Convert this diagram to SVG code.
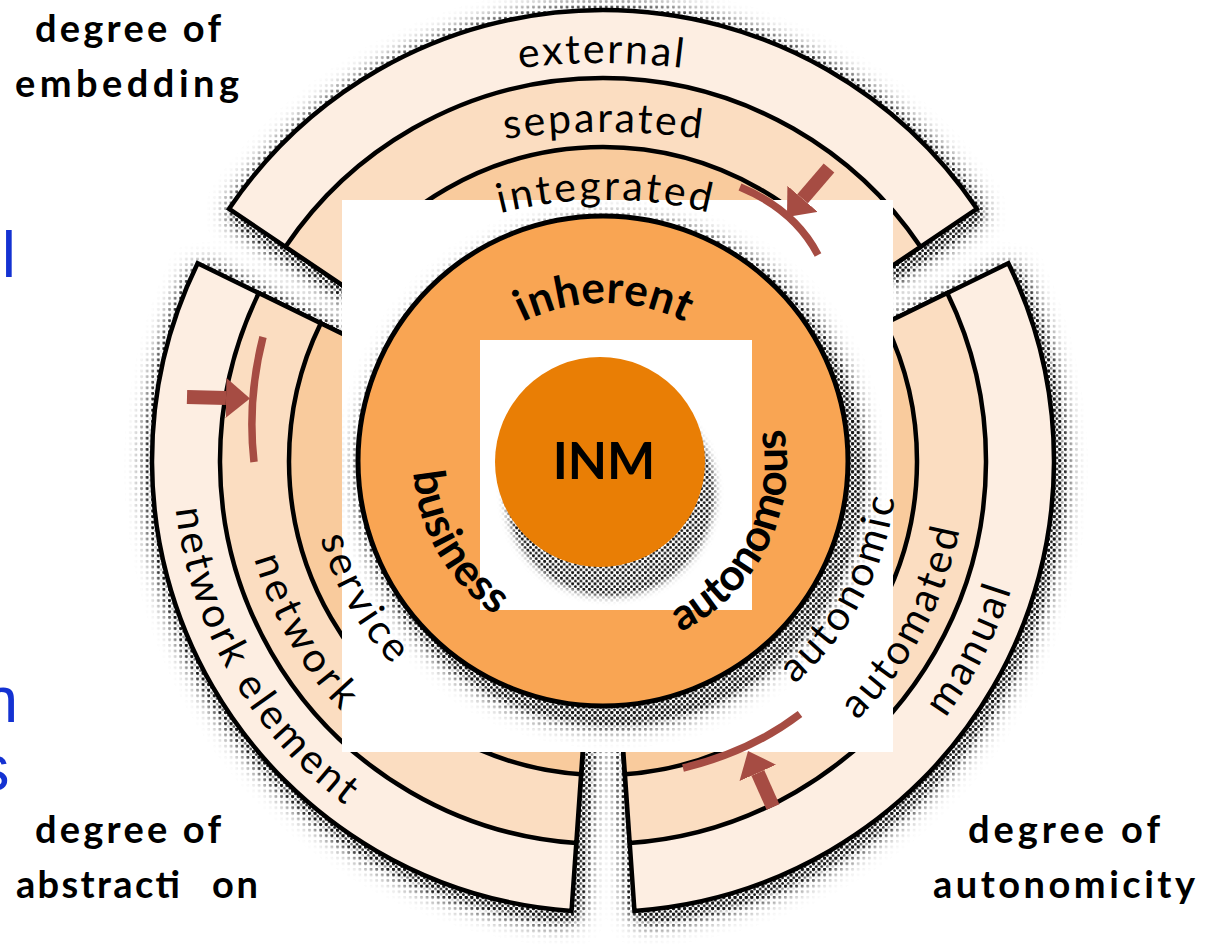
<svg xmlns="http://www.w3.org/2000/svg" width="1215" height="946" viewBox="0 0 1215 946">
<style>
.b3{fill:#FDEEE2}
.b2{fill:#FBDDC1}
.b1{fill:#F9CB9D}
.sec path{stroke:#000;stroke-width:4.5;stroke-linejoin:miter}
.ring{font-family:Lato,"Liberation Sans",sans-serif;font-size:41px;fill:#000;letter-spacing:2.5px}
.bold{font-family:Lato,"Liberation Sans",sans-serif;font-weight:700;font-size:44px;fill:#000;letter-spacing:0.5px}
.corner{font-family:Lato,"Liberation Sans",sans-serif;font-weight:700;font-size:38px;fill:#000}
.blue{font-family:"Liberation Sans",Arial,sans-serif;font-size:64px;fill:#1432D2}
.bar{fill:none;stroke:#A64C43;stroke-width:7.5}
.shaft{fill:none;stroke:#A64C43;stroke-width:14}
</style>
<defs>
<pattern id="dotA" width="5.6" height="5.6" patternUnits="userSpaceOnUse"><circle cx="1.4" cy="1.4" r="1.55" fill="#151515"/></pattern>
<pattern id="dotB" width="5.6" height="5.6" patternUnits="userSpaceOnUse"><circle cx="1.4" cy="1.4" r="1.55" fill="#151515"/><circle cx="4.2" cy="4.2" r="1.4" fill="#151515"/></pattern>
<filter id="fWide" x="-20%" y="-20%" width="140%" height="140%"><feGaussianBlur stdDeviation="13"/><feComponentTransfer><feFuncA type="linear" slope="3.4"/></feComponentTransfer></filter>
<filter id="fTight" x="-20%" y="-20%" width="140%" height="140%"><feGaussianBlur stdDeviation="6"/><feComponentTransfer><feFuncA type="linear" slope="2.4"/></feComponentTransfer></filter>
<path id="secAll" d="M603,461 L229.10,208.81 A451,451 0 0 1 976.90,208.81 Z M603,461 L1008.35,263.30 A451,451 0 0 1 634.46,910.90 Z M603,461 L571.54,910.90 A451,451 0 0 1 197.65,263.30 Z"/>
<mask id="mSecWide" maskUnits="userSpaceOnUse" x="0" y="0" width="1215" height="946"><g filter="url(#fWide)"><use href="#secAll" fill="#fff" transform="translate(3,6)"/></g></mask>
<mask id="mSecTight" maskUnits="userSpaceOnUse" x="0" y="0" width="1215" height="946"><g filter="url(#fTight)"><use href="#secAll" fill="#fff" transform="translate(4,7)"/></g></mask>
<mask id="mInhWide" maskUnits="userSpaceOnUse" x="0" y="0" width="1215" height="946"><g filter="url(#fWide)"><circle cx="612" cy="473" r="245" fill="#fff"/></g></mask>
<mask id="mInhTight" maskUnits="userSpaceOnUse" x="0" y="0" width="1215" height="946"><g filter="url(#fTight)"><circle cx="613" cy="475" r="245" fill="#fff"/></g></mask>
<mask id="mInm" maskUnits="userSpaceOnUse" x="0" y="0" width="1215" height="946"><g filter="url(#fTight)"><circle cx="610" cy="492" r="100" fill="#fff"/></g></mask>
<marker id="head" markerUnits="userSpaceOnUse" markerWidth="26" markerHeight="40" refX="0" refY="20" orient="auto"><path d="M0,0 L24,20 L0,40 Z" fill="#A64C43"/></marker>
<path id="pExternal" d="M432,85.6 A650,650 0 0 1 772,85.6"/>
<path id="pSeparated" d="M434,153 A700,700 0 0 1 774,153"/>
<path id="pIntegrated" d="M436,235 A430,430 0 0 1 776,235"/>
<path id="pInherent" d="M464.6,368 A182,182 0 0 1 743.4,368"/>
<path id="pBusiness" d="M424.3,396 A187,187 0 0 0 567.5,644.2"/>
<path id="pAutonomous" d="M642.1,645.2 A187,187 0 0 0 772.1,389.9"/>
<path id="pService" d="M327.7,360.8 A293,293 0 0 0 552.1,749.5"/>
<path id="pNetwork" d="M262.8,337.2 A362,362 0 0 0 540.1,817.5"/>
<path id="pNetElem" d="M198.9,313.9 A430,430 0 0 0 528.3,884.5"/>
<path id="pAutonomic" d="M664.1,748.6 A294,294 0 0 0 875.6,350.9"/>
<path id="pAutomated" d="M678.5,816.1 A363,363 0 0 0 939.6,325.0"/>
<path id="pManual" d="M699.3,878.0 A428,428 0 0 0 997.0,293.8"/>
</defs>

<rect width="1215" height="946" fill="#fff"/>

<g id="blue-fragments">
<text class="blue" x="1.7" y="277">l</text>
<text class="blue" x="-17.4" y="722">n</text>
<text class="blue" x="-22.4" y="790">s</text>
</g>

<g id="sector-shadow">
<rect width="1215" height="946" fill="url(#dotA)" mask="url(#mSecWide)"/>
<rect width="1215" height="946" fill="url(#dotB)" mask="url(#mSecTight)"/>
</g>

<g id="sector-embedding" class="sec">
<path class="b3" d="M603,461 L229.10,208.81 A451,451 0 0 1 976.90,208.81 Z"/>
<path class="b2" d="M603,461 L285.48,246.83 A383,383 0 0 1 920.52,246.83 Z"/>
<path class="b1" d="M603,461 L342.68,285.41 A314,314 0 0 1 863.32,285.41 Z"/>
</g>
<g id="sector-autonomicity" class="sec">
<path class="b3" d="M603,461 L1008.35,263.30 A451,451 0 0 1 634.46,910.90 Z"/>
<path class="b2" d="M603,461 L947.24,293.10 A383,383 0 0 1 629.72,843.07 Z"/>
<path class="b1" d="M603,461 L885.22,323.35 A314,314 0 0 1 624.90,774.23 Z"/>
</g>
<g id="sector-abstraction" class="sec">
<path class="b3" d="M603,461 L571.54,910.90 A451,451 0 0 1 197.65,263.30 Z"/>
<path class="b2" d="M603,461 L576.28,843.07 A383,383 0 0 1 258.76,293.10 Z"/>
<path class="b1" d="M603,461 L581.10,774.23 A314,314 0 0 1 320.78,323.35 Z"/>
</g>

<g id="white-square">
<rect x="342" y="200" width="551" height="552" fill="#fff"/>
</g>

<g id="inherent">
<rect x="342" y="200" width="551" height="552" fill="url(#dotA)" mask="url(#mInhWide)"/>
<rect x="342" y="200" width="551" height="552" fill="url(#dotB)" mask="url(#mInhTight)"/>
<circle cx="603" cy="461" r="245" fill="#F9A553" stroke="#000" stroke-width="5"/>
</g>

<g id="inner-square">
<rect x="480" y="340" width="272" height="270" fill="#fff"/>
</g>

<g id="inm">
<rect x="480" y="340" width="272" height="270" fill="url(#dotB)" mask="url(#mInm)"/>
<circle cx="600" cy="462" r="105" fill="#E97E05"/>
<text x="604" y="479" text-anchor="middle" font-family="Lato,'Liberation Sans',sans-serif" font-weight="700" font-size="51" fill="#000">INM</text>
</g>

<g id="labels">
<text class="ring"><textPath href="#pExternal" startOffset="50%" text-anchor="middle">external</textPath></text>
<text class="ring"><textPath href="#pSeparated" startOffset="50%" text-anchor="middle">separated</textPath></text>
<text class="ring" style="letter-spacing:3px"><textPath href="#pIntegrated" startOffset="50%" text-anchor="middle">integrated</textPath></text>
<text class="bold"><textPath href="#pInherent" startOffset="50%" text-anchor="middle">inherent</textPath></text>
<text class="bold"><textPath href="#pBusiness" startOffset="50%" text-anchor="middle">business</textPath></text>
<text class="bold" style="letter-spacing:0px"><textPath href="#pAutonomous" startOffset="50%" text-anchor="middle">autonomous</textPath></text>
<text class="ring" style="letter-spacing:3.5px"><textPath href="#pService" startOffset="50%" text-anchor="middle">service</textPath></text>
<text class="ring" style="letter-spacing:4.5px"><textPath href="#pNetwork" startOffset="50%" text-anchor="middle">network</textPath></text>
<text class="ring" style="letter-spacing:3.2px"><textPath href="#pNetElem" startOffset="50%" text-anchor="middle">network element</textPath></text>
<text class="ring" style="letter-spacing:3.2px"><textPath href="#pAutonomic" startOffset="50%" text-anchor="middle">autonomic</textPath></text>
<text class="ring" style="letter-spacing:3.2px"><textPath href="#pAutomated" startOffset="50%" text-anchor="middle">automated</textPath></text>
<text class="ring" style="letter-spacing:3px"><textPath href="#pManual" startOffset="50%" text-anchor="middle">manual</textPath></text>
</g>

<g id="axis-labels">
<text class="corner" x="35" y="42" textLength="186" lengthAdjust="spacing">degree of</text>
<text class="corner" x="15" y="97" textLength="224" lengthAdjust="spacing">embedding</text>
<text class="corner" x="35" y="843" textLength="186" lengthAdjust="spacing">degree of</text>
<text class="corner" y="898"><tspan x="16" textLength="164" lengthAdjust="spacing">abstracti</tspan><tspan x="212" textLength="46" lengthAdjust="spacing">on</tspan></text>
<text class="corner" x="968" y="843" textLength="192" lengthAdjust="spacing">degree of</text>
<text class="corner" x="933" y="898" textLength="262" lengthAdjust="spacing">autonomicity</text>
</g>

<g id="connectors">
<path class="bar" d="M740,187 Q795,210 818,255"/>
<line class="shaft" x1="829" y1="168" x2="802.6" y2="198.8" marker-end="url(#head)"/>
<path class="bar" d="M263,337 Q247,400 254,462"/>
<line class="shaft" x1="187" y1="397" x2="226" y2="398" marker-end="url(#head)"/>
<path class="bar" d="M683,768 Q750,752 800,714"/>
<line class="shaft" x1="773" y1="807" x2="757.8" y2="772.9" marker-end="url(#head)"/>
</g>
</svg>
